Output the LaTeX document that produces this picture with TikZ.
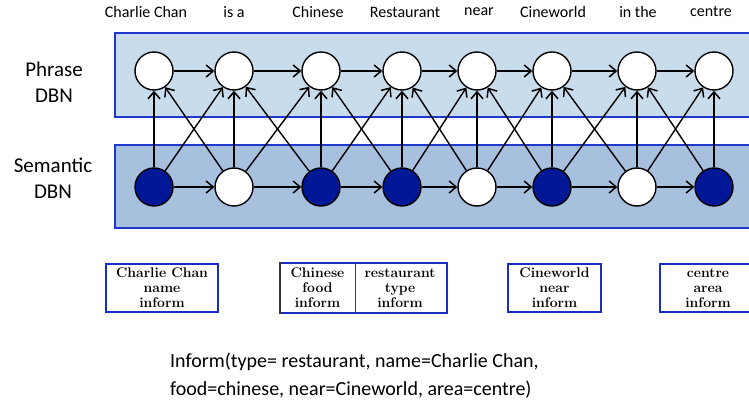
\documentclass[tikz,border=0pt]{standalone}
\usepackage{fontspec}
\newfontfamily\labelfont{Carlito}
\usetikzlibrary{arrows.meta}
\definecolor{phraseband}{RGB}{201,220,235}
\definecolor{semband}{RGB}{166,192,222}
\definecolor{bandedge}{RGB}{30,55,205}
\definecolor{slotblue}{RGB}{0,24,150}
\definecolor{boxedge}{RGB}{25,45,195}
\begin{document}
\begin{tikzpicture}[x=1pt,y=-1pt,
  dbnnode/.style={circle, draw=black, line width=1.4pt, minimum size=38pt, inner sep=0pt, fill=white},
  slotnode/.style={dbnnode, fill=slotblue},
  link/.style={line width=1.4pt, -{Straight Barb[length=7pt,width=12pt,line width=1.5pt]}},
  word/.style={font=\labelfont\fontsize{16}{18}\selectfont, inner sep=0pt},
  layername/.style={font=\labelfont\fontsize{21}{26}\selectfont, align=center, inner sep=0pt},
  band/.style={line width=1.2pt, draw=bandedge},
  slotbox/.style={draw=boxedge, line width=2pt, align=center, inner sep=0pt,
    font=\bfseries\fontsize{14}{15}\selectfont, minimum height=48pt},
  actline/.style={font=\labelfont\fontsize{20}{28}\selectfont, align=left, anchor=west, inner sep=0pt}
]
\useasboundingbox (0,0) rectangle (749,403);

% layer bands
\fill[phraseband] (115,33) rectangle (749,117);
\draw[band] (749,33) -- (115,33) -- (115,117) -- (749,117);
\fill[semband] (115,145) rectangle (749,228);
\draw[band] (749,145) -- (115,145) -- (115,228) -- (749,228);

\node[layername] (phr) at (54,82) {Phrase\\DBN};
\node[layername] (sem) at (53,178) {Semantic\\DBN};

% words above the phrase layer
\node[word] (w1) at (146,12) {Charlie Chan};
\node[word] (w2) at (234,12) {is a};
\node[word] (w3) at (318,12) {Chinese};
\node[word] (w4) at (405,12) {Restaurant};
\node[word] (w5) at (479,12) {near};
\node[word] (w6) at (553,12) {Cineworld};
\node[word] (w7) at (638,12) {in the};
\node[word] (w8) at (711,12) {centre};

% phrase nodes
\foreach \i/\x in {1/154,2/234,3/321,4/402,5/477,6/552,7/637,8/714}
  \node[dbnnode] (p\i) at (\x,71) {};

% semantic nodes (filled = carries a slot value)
\foreach \i/\x/\st in {1/154/slotnode,2/234/dbnnode,3/321/slotnode,4/402/slotnode,
                       5/477/dbnnode,6/552/slotnode,7/637/dbnnode,8/714/slotnode}
  \node[\st] (s\i) at (\x,187) {};

% temporal and cross-layer links
\foreach \i in {1,...,7}{
  \pgfmathtruncatemacro{\j}{\i+1}
  \draw[link] (p\i) -- (p\j);
  \draw[link] (s\i) -- (s\j);
  \draw[link] (s\i) -- (p\j);
  \draw[link] (s\j) -- (p\i);
}
\foreach \i in {1,...,8}
  \draw[link] (s\i) -- (p\i);

% slot boxes
\node[slotbox, minimum width=112pt] (b1) at (162,288) {Charlie Chan\\name\\inform};
\node[slotbox, draw=none, minimum width=73pt] (b2a) at (317.5,288) {Chinese\\food\\inform};
\node[slotbox, draw=none, minimum width=92pt] (b2b) at (400,288) {restaurant\\type\\inform};
\draw[boxedge, line width=2pt] (b2a.north west) rectangle (b2b.south east);
\draw[black!75, line width=0.8pt] (b2a.north east) -- (b2a.south east);
\draw[black!80, line width=0.9pt] ([yshift=1pt]b2a.north west) -- ([yshift=-1pt]b2a.south west);
\node[slotbox, minimum width=93pt] (b3) at (554.5,288) {Cineworld\\near\\inform};
\node[slotbox, minimum width=96pt] (b4) at (708,288) {centre\\area\\inform};

% dialogue act
\node[actline] (act) at (170,376) {Inform(type= restaurant, name=Charlie Chan,\\food=chinese, near=Cineworld, area=centre)};
\end{tikzpicture}
\end{document}
